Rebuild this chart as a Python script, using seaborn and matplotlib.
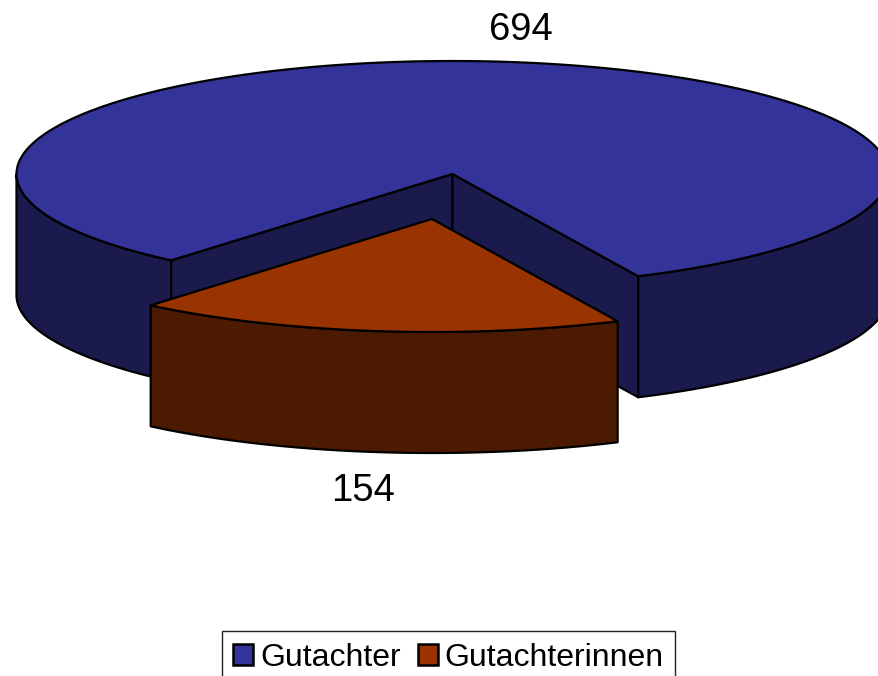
import numpy as np
import matplotlib
matplotlib.use("Agg")
import matplotlib.pyplot as plt
from matplotlib.patches import Patch
import seaborn as sns

# data
labels = ['Gutachter', 'Gutachterinnen']
values = [694, 154]
top_colors = ['#333399', '#993300']
side_colors = ['#1a1a4c', '#4c1a00']

sns.set_theme(style="white")
plt.rcParams['font.family'] = ['Liberation Sans', 'DejaVu Sans']

# pie geometry, in pixels of the picture
cx, cy = 452.5, 174
rx, ry = 436, 113
depth = 121
shift_x, shift_y = -20.5, 45
lw = 1.6
start = np.radians(25.2)  # where the small slice ends, measured from the front


def rim(t1, t2, x0=cx, y0=cy):
    t = np.linspace(t1, t2, 200)
    return x0 + rx * np.sin(t), y0 + ry * np.cos(t)


def draw_side(ax, x, y, color):
    xs = np.concatenate([x, x[::-1]])
    ys = np.concatenate([y, y[::-1] + depth])
    ax.fill(xs, ys, facecolor=color, edgecolor='black', linewidth=lw, joinstyle='round')


fig, ax = plt.subplots(figsize=(8.79, 6.76), dpi=100)
ax.set_position([0, 0, 1, 1])
ax.set_xlim(0, 879)
ax.set_ylim(676, 0)
ax.axis('off')

sweep = 2 * np.pi * values[1] / sum(values)
end = start - sweep  # left edge of the small slice

# big slice: outer wall left and right, the two cut walls, then the top
x, y = rim(-np.pi / 2, end)
draw_side(ax, x, y, side_colors[0])
x, y = rim(start, np.pi / 2)
draw_side(ax, x, y, side_colors[0])
for t in [end, start]:
    x, y = rim(t, t, cx, cy)
    draw_side(ax, np.array([cx, x[0]]), np.array([cy, y[0]]), side_colors[0])
x, y = rim(start, end + 2 * np.pi)
ax.fill(np.r_[cx, x], np.r_[cy, y], facecolor=top_colors[0], edgecolor='black', linewidth=lw)

# small slice pulled out to the front
x, y = rim(end, start, cx + shift_x, cy + shift_y)
draw_side(ax, x, y, side_colors[1])
ax.fill(np.r_[cx + shift_x, x], np.r_[cy + shift_y, y], facecolor=top_colors[1],
        edgecolor='black', linewidth=lw)

ax.text(520.5, 30, str(values[0]), fontsize=27.5, color='black', ha='center', va='center')
ax.text(363, 491, str(values[1]), fontsize=27.5, color='black', ha='center', va='center')

handles = [Patch(facecolor=c, edgecolor='black', linewidth=1.8) for c in top_colors]
ax.legend(handles, labels, loc='upper left', bbox_to_anchor=(222, 631),
          bbox_transform=ax.transData, ncol=2, fontsize=23, frameon=True, fancybox=False,
          framealpha=1, edgecolor='#222222', borderaxespad=0, borderpad=0.36,
          handlelength=0.62, handleheight=0.62, handletextpad=0.22, columnspacing=0.53,
          labelcolor='black')

fig.savefig('out.png', dpi=100)
